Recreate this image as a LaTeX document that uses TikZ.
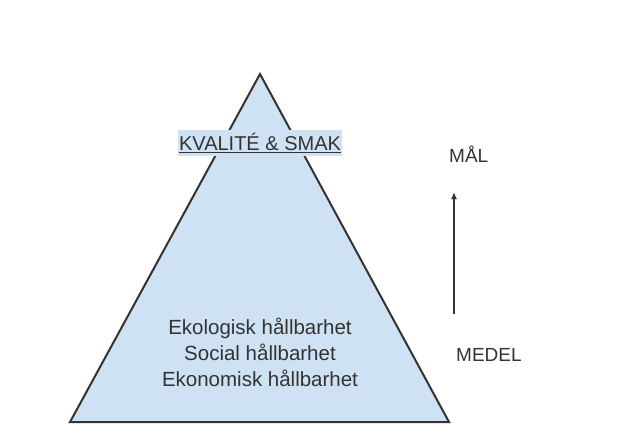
\documentclass[tikz,border=0pt]{standalone}
\usepackage{fontspec}
\setmainfont{Liberation Sans}
\usetikzlibrary{arrows.meta}
\definecolor{tri}{HTML}{CFE2F3}
\definecolor{ink}{HTML}{333333}
\begin{document}
\begin{tikzpicture}[x=1pt,y=-1pt,
  lbl/.style={inner sep=0pt, text=ink, font=\fontsize{19}{23}\selectfont},
  body/.style={inner sep=0pt, text=ink, align=center, font=\fontsize{20.5}{26}\selectfont}]
\useasboundingbox (0,0) rectangle (617,439);
\coordinate (apex) at (260,74);
\coordinate (bl) at (70,422);
\coordinate (br) at (449,422);
\draw[ink, line width=2pt, fill=tri, line join=miter] (apex) -- (br) -- (bl) -- cycle;
\node[lbl, fill=tri, inner xsep=1pt, inner ysep=3pt, font=\fontsize{20}{24}\selectfont] (top) at (260,143) {\underline{KVALITÉ \& SMAK}};
\node[body] (mid) at (260,352) {Ekologisk hållbarhet\\Social hållbarhet\\Ekonomisk hållbarhet};
\node[lbl, anchor=west] (mal) at (449,154) {MÅL};
\node[lbl, anchor=west] (medel) at (456,355) {MEDEL};
\coordinate (atop) at (454,192);
\coordinate (abot) at (454,314);
\draw[ink, line width=1.5pt, -{Latex[length=7pt,width=6pt]}] (abot) -- (atop);
\end{tikzpicture}
\end{document}
